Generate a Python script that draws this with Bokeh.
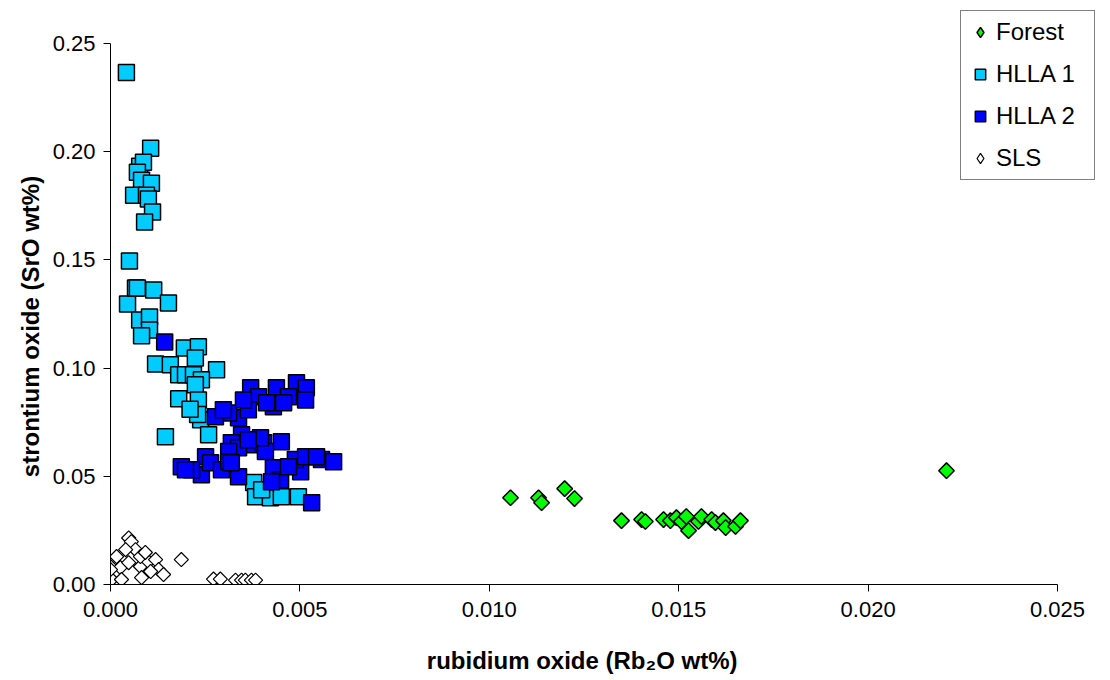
import math
from bokeh.plotting import figure
from bokeh.models import Range1d, FixedTicker, PrintfTickFormatter, Legend, LegendItem
from bokeh.embed import file_html
from bokeh.resources import INLINE

# ---- data ----
forest_x = [0.01056, 0.01130, 0.01138, 0.01199, 0.01225, 0.02207, 0.01349, 0.01402,
            0.01412, 0.01460, 0.01478, 0.01494, 0.01507, 0.01520, 0.01526, 0.01552,
            0.01560, 0.01587, 0.01597, 0.01618, 0.01624, 0.01650, 0.01663]
forest_y = [0.0401, 0.0401, 0.0378, 0.0443, 0.0397, 0.0526, 0.0295, 0.0300,
            0.0291, 0.0300, 0.0295, 0.0309, 0.0291, 0.0314, 0.0249, 0.0291,
            0.0314, 0.0300, 0.0286, 0.0295, 0.0263, 0.0268, 0.0295]

hlla1_x = [0.00042, 0.00106, 0.00077, 0.00087, 0.00071, 0.00082, 0.00108, 0.00061,
           0.00095, 0.00100, 0.00111, 0.00090, 0.00050, 0.00045, 0.00066, 0.00071,
           0.00114, 0.00153, 0.00077, 0.00103, 0.00103, 0.00082, 0.00119, 0.00158,
           0.00180, 0.00198, 0.00195, 0.00232, 0.00224, 0.00280, 0.00219, 0.00240,
           0.00224, 0.00180, 0.00232, 0.00238, 0.00259, 0.00145, 0.00378, 0.00383,
           0.00422, 0.00496, 0.00399, 0.00451, 0.00230, 0.00210]
hlla1_y = [0.2366, 0.2016, 0.1933, 0.1951, 0.1905, 0.1868, 0.1854, 0.1799,
           0.1799, 0.1781, 0.1721, 0.1675, 0.1495, 0.1296, 0.1370, 0.1370,
           0.1361, 0.1301, 0.1222, 0.1236, 0.1176, 0.1149, 0.1019, 0.1015,
           0.0969, 0.0969, 0.1093, 0.1098, 0.1047, 0.0992, 0.0969, 0.0946,
           0.0923, 0.0858, 0.0853, 0.0761, 0.0692, 0.0683, 0.0471, 0.0406,
           0.0401, 0.0406, 0.0438, 0.0406, 0.0785, 0.0810]

hlla2_x = [0.00143, 0.00370, 0.00391, 0.00438, 0.00491, 0.00517, 0.00470, 0.00430,
           0.00338, 0.00312, 0.00277, 0.00298, 0.00364, 0.00515, 0.00457, 0.00412,
           0.00351, 0.00346, 0.00319, 0.00378, 0.00404, 0.00451, 0.00338, 0.00409,
           0.00312, 0.00396, 0.00364, 0.00251, 0.00240, 0.00264, 0.00293, 0.00338,
           0.00312, 0.00214, 0.00319, 0.00187, 0.00198, 0.00430, 0.00449, 0.00425,
           0.00502, 0.00488, 0.00515, 0.00557, 0.00589, 0.00544, 0.00470, 0.00531]
hlla2_y = [0.1121, 0.0909, 0.0867, 0.0909, 0.0932, 0.0909, 0.0867, 0.0821,
           0.0770, 0.0793, 0.0775, 0.0807, 0.0807, 0.0853, 0.0840, 0.0840,
           0.0853, 0.0692, 0.0655, 0.0646, 0.0655, 0.0660, 0.0632, 0.0614,
           0.0614, 0.0678, 0.0669, 0.0590, 0.0507, 0.0563, 0.0530, 0.0498,
           0.0567, 0.0530, 0.0563, 0.0544, 0.0530, 0.0540, 0.0484, 0.0475,
           0.0521, 0.0577, 0.0590, 0.0577, 0.0567, 0.0590, 0.0544, 0.0378]

sls_x = [0.00048, 0.00055, 0.00066, 0.00016, 0.00000, 0.00003, 0.00026, 0.00048,
         0.00079, 0.00100, 0.00119, 0.00127, 0.00106, 0.00082, 0.00140, 0.00029,
         0.00187, 0.00272, 0.00290, 0.00330, 0.00346, 0.00356, 0.00372, 0.00383,
         0.00000, 0.00040, 0.00079, 0.00092]
sls_y = [0.0215, 0.0198, 0.0161, 0.0129, 0.0083, 0.0023, 0.0078, 0.0101,
         0.0083, 0.0106, 0.0115, 0.0069, 0.0060, 0.0032, 0.0046, 0.0023,
         0.0115, 0.0025, 0.0025, 0.0020, 0.0020, 0.0020, 0.0020, 0.0020,
         0.0069, 0.0161, 0.0129, 0.0148]

series_labels = ["Forest", "HLLA 1", "HLLA 2", "SLS"]
x_ticks = [0.0, 0.005, 0.010, 0.015, 0.020, 0.025]
y_ticks = [0.0, 0.05, 0.10, 0.15, 0.20, 0.25]
x_bounds = (0.0, 0.025)
y_bounds = (0.0, 0.25)
x_title = "rubidium oxide (Rb\u2082O wt%)"
y_title = "strontium oxide (SrO wt%)"

FONT = "Liberation Sans"
NBSP = "\u00a0"

# frame extends beyond the axes (right/top) so the legend can sit outside the axes' box
FRAME_W, FRAME_H = 990, 577
AX_W, AX_H = 947, 542
x_end = x_bounds[1] * FRAME_W / AX_W
y_end = y_bounds[1] * FRAME_H / AX_H

p = figure(width=1100, height=676, output_backend="svg", toolbar_location=None,
           x_range=Range1d(0, x_end), y_range=Range1d(0, y_end),
           min_border_left=110, min_border_right=0, min_border_top=8, min_border_bottom=91)
p.outline_line_color = None
p.xgrid.visible = False
p.ygrid.visible = False
p.background_fill_color = "white"

for ax in (p.xaxis[0], p.yaxis[0]):
    ax.axis_line_color = "black"
    ax.major_tick_line_color = "black"
    ax.major_tick_out = 7
    ax.major_tick_in = 0
    ax.minor_tick_line_color = None
    ax.major_label_text_font = FONT
    ax.major_label_text_color = "black"
    ax.axis_label_text_font = FONT
    ax.axis_label_text_font_style = "bold"
    ax.axis_label_text_color = "black"

p.xaxis.bounds = x_bounds
p.yaxis.bounds = y_bounds
p.xaxis.ticker = FixedTicker(ticks=x_ticks)
p.yaxis.ticker = FixedTicker(ticks=y_ticks)
p.xaxis.formatter = PrintfTickFormatter(format="%.3f")
p.yaxis.formatter = PrintfTickFormatter(format="%.2f")
p.xaxis.major_label_text_font_size = "22px"
p.yaxis.major_label_text_font_size = "22px"
# trailing no-break spaces re-centre the titles on the axes' extent rather than the frame's
p.xaxis.axis_label = x_title + NBSP * 7
p.yaxis.axis_label = y_title + NBSP * 9
p.xaxis.axis_label_text_font_size = "24px"
p.yaxis.axis_label_text_font_size = "24px"
p.xaxis.major_label_standoff = 10
p.yaxis.major_label_standoff = 8
p.xaxis.axis_label_standoff = 27
p.yaxis.axis_label_standoff = 6

# diamond-shaped copies drawn underneath (hidden by the rotated squares);
# they only provide diamond glyphs for the legend
lg_forest = p.scatter(forest_x, forest_y, marker="diamond", size=10,
                      fill_color="#00FF00", line_color="black", line_width=1.5)
lg_sls = p.scatter(sls_x, sls_y, marker="diamond", size=9,
                   fill_color="white", line_color="black", line_width=1.2)

r_forest = p.scatter(forest_x, forest_y, marker="square", angle=math.pi / 4, size=11,
                     fill_color="#00FF00", line_color="black", line_width=1.5)
r_h1 = p.scatter(hlla1_x, hlla1_y, marker="square", size=16,
                 fill_color="#00CCFF", line_color="black", line_width=1.5)
r_h2 = p.scatter(hlla2_x, hlla2_y, marker="square", size=16,
                 fill_color="#0000FF", line_color="black", line_width=1.5)
r_sls = p.scatter(sls_x, sls_y, marker="square", angle=math.pi / 4, size=10,
                  fill_color="white", line_color="black", line_width=1.2)

legend = Legend(items=[
    LegendItem(label=series_labels[0], renderers=[lg_forest]),
    LegendItem(label=series_labels[1], renderers=[r_h1]),
    LegendItem(label=series_labels[2], renderers=[r_h2]),
    LegendItem(label=series_labels[3], renderers=[lg_sls]),
], location=(850, 404))
legend.border_line_color = "black"
legend.border_line_width = 1
legend.background_fill_color = "white"
legend.background_fill_alpha = 1
legend.label_text_font = FONT
legend.label_text_font_size = "24px"
legend.label_text_color = "black"
legend.glyph_width = 26
legend.glyph_height = 30
legend.label_height = 30
legend.label_width = 92
legend.spacing = 12
legend.padding = 6
legend.margin = 0
legend.label_standoff = 3
p.add_layout(legend, "center")

open("out.html", "w").write(file_html(p, INLINE))
